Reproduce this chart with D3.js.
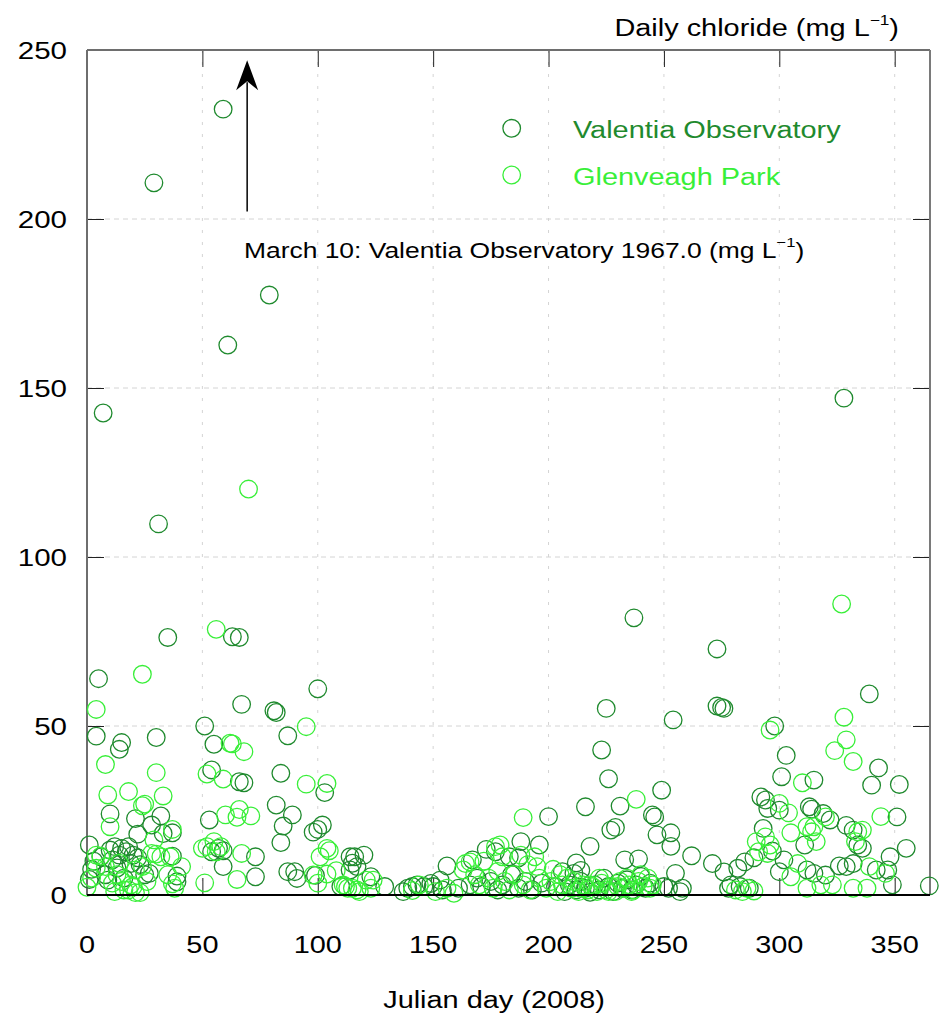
<!DOCTYPE html>
<html>
<head>
<meta charset="utf-8">
<script src="https://cdn.jsdelivr.net/npm/d3@7"></script>
<style>
  html, body { margin: 0; padding: 0; background: #fff; }
  svg { display: block; font-family: "Liberation Sans", Arial, sans-serif; }
</style>
</head>
<body>
<svg id="chart"></svg>
<script>
// daily chloride, [julian day, mg/L]
const valentia = [
  [1,14.8],[1,4.6],[2,7.6],[3,10],[4,47],[5,64],[6,11.3],[7,142.6],[8,6],[9,4.4],[10,24],[10,13.3],[11,10.4],
  [12,14.3],[13,8],[14,11.8],[14,43.1],[15,45.1],[15,13.8],[16,5],[17,12.8],[18,14.3],[19,9.3],[20,11.8],
  [21,22.6],[22,11],[22,18],[23,9],[25,6],[27,6.4],[28,20.7],[29,210.7],[30,46.6],[31,109.8],[32,23.4],
  [33,18.2],[35,76.2],[37,18.4],[37,11.5],
  [39,5.6],[39,3.9],[51,50],[53,22.2],[54,37],[54,12.8],[55,44.6],[57,13.8],[59,8.4],[59,232.5],[59,13.1],
  [61,162.7],[63,76.4],[66,76.2],[66,33.5],[67,56.4],[68,33.2],[73,5.4],[73,11.3],[79,177.5],[81,54.5],
  [82,54.0],[82,26.6],[84,36],[84,15.5],[85,20.4],[87,47.1],[87,6.9],[89,23.7],[90,6.9],[91,4.9],[98,18.6],
  [99,5.8],[100,19.4],[100,61],[102,20.7],[103,30.3],[110,2.5],[114,11.3],[114,7.4],[115,9.4],[116,11.3],
  [117,8.4],[120,11.8],[123,5.4],[129,2.5],[137,1],[139,2],[141,2.5],[143,3],[146,2.5],[149,3.4],[150,2.5],
  [153,4.4],[154,1.5],[156,8.6],[161,2],[166,3],[167,10.4],[169,5],[171,2.5],[173,13.5],[175,4],[177,12.8],
  [178,1.5],[180,3],[183,11.3],[184,6],[187,11],[187,2],[188,15.8],[190,4],[193,1.5],[196,14.8],[197,3.5],
  [200,23.2],[203,2.5],[206,6.9],[207,1],[209,3],[211,6.4],[212,9.5],[212,1.5],[214,7.3],[214,4],[216,26.1],
  [216,2],[218,14.4],[218,0.8],[220,3],[222,1.5],[223,42.9],[224,5],[225,55.2],[226,34.4],[226,2.5],[227,19.2],
  [228,1],[229,20],[230,3.5],[231,26.3],[232,2],[233,10.4],[234,4.5],[236,1.5],[237,82],[238,3],[239,10.7],
  [240,5.5],[242,2],[244,3.5],[245,23.7],[246,23.1],[247,17.8],[249,31],[250,2.5],[252,2],[253,18.4],
  [253,14.4],[254,51.8],[255,6.4],[257,1],[258,2],[262,11.6],[271,9.3],[273,72.8],[273,55.9],[275,55.5],
  [276,55.2],[276,6.8],[278,2],[279,3],[282,7.9],[283,2.5],[285,9.8],[287,2],[289,11],[292,29],[293,19.7],
  [294,28.1],[295,25.6],[297,13],[298,50],[300,25.1],[300,6.9],[301,35],[302,10.4],[303,41.3],[311,14.8],
  [312,7.4],[313,26.1],[314,25.4],[315,34],[315,6.4],[319,24.1],[320,5.9],[322,22.2],[326,8.6],[328,147],
  [329,20.6],[329,8.4],[332,19.2],[332,9.3],[334,14.8],[336,13.8],[339,59.5],[340,32.5],[342,7.4],[343,37.6],
  [347,7.4],[348,11.3],[349,3],[351,23.1],[352,32.7],[355,13.8],[365,2.7]
];

const glenveagh = [
  [0,2.3],[2,5],[4,54.9],[4,11.8],[4,7.9],[6,11.5],[8,38.6],[8,8.4],[9,29.6],[10,20.2],[11,3.5],[12,1],
  [13,6],[14,9.4],[15,4],[16,1.5],[18,30.6],[18,1.5],[19,3],[20,2.5],[21,0.7],[21,7.4],[23,0.7],[24,65.3],
  [24,26.4],[24,8.4],[25,26.9],[26,4],[28,12.3],[29,16.3],[30,36.2],[30,12.1],[32,11.3],[33,29.3],[35,6],
  [36,11.3],[37,19.4],[37,3.3],[38,2],[41,8.4],[50,13.8],
  [51,3.6],[52,35.8],[52,14.3],[55,15.8],[56,78.6],[56,12.8],[58,14.3],[59,34.3],[60,23.7],[62,44.9],
  [63,44.7],[65,23],[65,4.6],[66,25.3],[67,12.3],[68,42.4],[70,120.1],[71,23.4],[95,49.8],[95,32.8],
  [98,5.9],[100,3.5],[101,11.3],[104,33],[104,13.8],[104,6.2],[105,13.1],[108,7.2],[111,3],[112,2.5],
  [113,2],[115,2],[117,1.5],[118,1],[121,4.4],[123,2],[124,4.4],[141,1.3],[144,3],[151,1],[156,2],[159,0.5],
  [163,7.4],[164,9.3],[166,9.8],[168,6],[170,3],[172,10],[174,5],[176,2],[177,14.3],[178,7],[179,14.8],
  [180,11.3],[181,4],[183,1.5],[185,6],[188,11.8],[189,22.9],[189,3],[191,9],[192,1.5],[194,11.3],[195,8.4],
  [196,5],[199,2],[201,4],[202,7.6],[204,1],[205,6],[206,3],[208,5],[210,2],[211,4],[213,1],[214,2],[215,3],
  [217,1.5],[218,3],[219,2.5],[221,1],[222,5],[223,3.5],[225,1.5],[226,1],[227,2.5],[229,1],[230,2.5],
  [231,4],[233,2],[234,5],[235,3],[236,1],[237,1.5],[238,28.3],[239,4],[240,6],[241,2.5],[243,5],[244,2],
  [245,3],[281,1.5],[284,1],[286,2],[289,1.2],[290,15.8],[291,12.8],[294,17.2],[295,12.3],
  [296,48.8],[296,14.8],[300,27.1],[304,24.3],[305,18.4],[305,5.4],[308,9.3],[310,33.2],[312,20.2],[312,2],
  [314,18.7],[315,20.2],[316,15.8],[318,3],[320,23.1],[323,3],[324,42.7],[327,86.1],[328,52.6],[329,45.9],
  [332,39.5],[332,2],[333,15.8],[334,18.7],[336,19.2],[338,2],[339,8.4],[344,23.2],[346,6.4]
];

const xTicks = [0, 50, 100, 150, 200, 250, 300, 350];
const yTicks = [0, 50, 100, 150, 200, 250];
const seriesNames = ["Valentia Observatory", "Glenveagh Park"];
const seriesColors = ["#1f8a2e", "#38ef38"];

// the March 10 off-scale value, shown as an arrow
const arrowDay = 69.4;
const arrowFrom = 202.2;
const arrowTo = 247;

const width = 946, height = 1014;
const stretch = 1.23; // text in the original is a bit wide

const x = d3.scaleLinear().domain([0, 365.3]).range([87, 930]);
const y = d3.scaleLinear().domain([0, 250]).range([895, 50]);

const svg = d3.select("#chart").attr("width", width).attr("height", height);
svg.append("rect").attr("width", width).attr("height", height).attr("fill", "#fff");

function label(g, px, py, txt, size, anchor) {
  return g.append("text")
    .attr("transform", `translate(${px},${py}) scale(${stretch},1)`)
    .attr("font-size", size)
    .attr("text-anchor", anchor || "start")
    .attr("fill", "#000")
    .text(txt);
}

// grid
svg.append("g")
  .selectAll("line")
  .data(xTicks.filter(d => d > 0))
  .join("line")
  .attr("x1", d => x(d)).attr("x2", d => x(d))
  .attr("y1", y(250)).attr("y2", y(0))
  .attr("stroke", "#d4d4d4").attr("stroke-dasharray", "3,9");

svg.append("g")
  .selectAll("line")
  .data(yTicks.filter(d => d > 0 && d < 250))
  .join("line")
  .attr("x1", x.range()[0]).attr("x2", x.range()[1])
  .attr("y1", d => y(d)).attr("y2", d => y(d))
  .attr("stroke", "#d4d4d4").attr("stroke-dasharray", "5,4");

// inward ticks on all four sides
const tk = 17;
svg.append("g").attr("transform", `translate(0,${y(0)})`)
  .call(d3.axisBottom(x).tickValues(xTicks).tickSize(-tk).tickFormat(""))
  .call(g => g.select(".domain").remove());
svg.append("g").attr("transform", `translate(0,${y(250)})`)
  .call(d3.axisTop(x).tickValues(xTicks).tickSize(-tk).tickFormat(""))
  .call(g => g.select(".domain").remove());
svg.append("g").attr("transform", `translate(${x(0)},0)`)
  .call(d3.axisLeft(y).tickValues(yTicks).tickSize(-tk).tickFormat(""))
  .call(g => g.select(".domain").remove());
svg.append("g").attr("transform", `translate(${x.range()[1]},0)`)
  .call(d3.axisRight(y).tickValues(yTicks).tickSize(-tk).tickFormat(""))
  .call(g => g.select(".domain").remove());
svg.selectAll(".tick line").attr("stroke", "#222");

// frame
const [x0, x1] = x.range();
svg.append("line").attr("x1", x0).attr("x2", x1).attr("y1", y(250)).attr("y2", y(250))
  .attr("stroke", "#6e6e6e").attr("stroke-width", 2);
svg.append("line").attr("x1", x0).attr("x2", x0).attr("y1", y(250)).attr("y2", y(0))
  .attr("stroke", "#6e6e6e").attr("stroke-width", 2);
svg.append("line").attr("x1", x1).attr("x2", x1).attr("y1", y(250)).attr("y2", y(0))
  .attr("stroke", "#7a7a7a").attr("stroke-width", 2);

// points
[valentia, glenveagh].forEach((data, i) => {
  svg.append("g")
    .selectAll("circle")
    .data(data)
    .join("circle")
    .attr("cx", d => x(d[0]))
    .attr("cy", d => y(d[1]))
    .attr("r", 8.8)
    .attr("fill", "none")
    .attr("stroke", seriesColors[i])
    .attr("stroke-width", 1.3);
});

svg.append("line").attr("x1", x0).attr("x2", x1).attr("y1", y(0)).attr("y2", y(0))
  .attr("stroke", "#000").attr("stroke-width", 1.8);

// tick labels
const labels = svg.append("g");
xTicks.forEach(t => label(labels, x(t), 953, t, 23.5, "middle"));
yTicks.forEach(t => label(labels, 67, y(t) + 8.5, t, 24, "end"));

label(labels, 494, 1008, "Julian day (2008)", 23.5, "middle");

const title = label(labels, 899, 36, "Daily chloride (mg L", 23.5, "end");
title.append("tspan").attr("dy", -11).attr("font-size", 14).text("\u22121");
title.append("tspan").attr("dy", 11).text(")");

// arrow + note
const ax = x(arrowDay), tipY = y(arrowTo);
svg.append("line")
  .attr("x1", ax).attr("x2", ax)
  .attr("y1", y(arrowFrom)).attr("y2", tipY + 22)
  .attr("stroke", "#000").attr("stroke-width", 1.5);
svg.append("path")
  .attr("d", `M${ax},${tipY} L${ax + 11},${tipY + 30} L${ax},${tipY + 21} L${ax - 11},${tipY + 30} Z`)
  .attr("fill", "#000");

const note = label(labels, x(68), y(188.4), "March 10: Valentia Observatory 1967.0 (mg L", 21.5, "start");
note.append("tspan").attr("dy", -11).attr("font-size", 13.5).text("\u22121");
note.append("tspan").attr("dy", 11).text(")");

// legend
const legend = svg.append("g");
seriesNames.forEach((name, i) => {
  const ly = 128.3 + i * 46.7;
  legend.append("circle")
    .attr("cx", 511.7).attr("cy", ly).attr("r", 8.8)
    .attr("fill", "none").attr("stroke", seriesColors[i]).attr("stroke-width", 1.3);
  label(legend, 573, ly + 9.5, name, 23.5, "start").attr("fill", seriesColors[i]);
});
</script>
</body>
</html>
